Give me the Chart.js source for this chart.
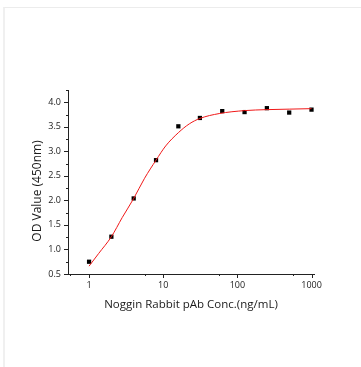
<!DOCTYPE html>
<html>
<head>
<meta charset="utf-8">
<script src="https://cdn.jsdelivr.net/npm/chart.js@4"></script>
<style>
  html, body { margin: 0; padding: 0; background: #fff; }
  #frame { position: absolute; left: 3px; top: 7px; width: 400px; height: 400px;
           border-left: 2px solid #f0f0f0; border-top: 1px solid #ececec; }
  #wrap { position: absolute; left: 0; top: 0; width: 361px; height: 367px; }
</style>
</head>
<body>
<div id="frame"></div>
<div id="wrap"><canvas id="chart" width="361" height="367"></canvas></div>
<script>
// measured points (2-fold dilution series)
const concs = [1, 2, 4, 8, 16, 31.25, 62.5, 125, 250, 500, 1000];
const odValues = [0.75, 1.26, 2.04, 2.82, 3.51, 3.68, 3.82, 3.80, 3.88, 3.79, 3.85];

// fitted curve
const fitX = [1, 1.35, 2, 2.8, 4, 5.6, 8, 10.8, 16, 22.5, 31.25, 57, 125, 250, 500, 1000];
const fitY = [0.66, 0.92, 1.26, 1.65, 2.04, 2.45, 2.82, 3.11, 3.38, 3.56, 3.67, 3.77, 3.83, 3.85, 3.86, 3.87];

const xMajor = [1, 10, 100, 1000];
const xMinor = [0.56, 5.6, 56, 560];
const yMajor = [0.5, 1.0, 1.5, 2.0, 2.5, 3.0, 3.5, 4.0];
const yMinor = [0.75, 1.25, 1.75, 2.25, 2.75, 3.25, 3.75, 4.25];

const xTitle = 'Noggin Rabbit pAb Conc.(ng/mL)';
const yTitle = 'OD Value (450nm)';

const textColor = '#1a1a1a';
const tickFont = { family: 'Open Sans', size: 9 };

// outward tick marks + axis titles
const axisDecor = {
  id: 'axisDecor',
  afterDraw(chart) {
    const { ctx, chartArea, scales } = chart;
    const x = scales.x, y = scales.y;
    ctx.save();
    ctx.strokeStyle = '#222';
    ctx.lineWidth = 1;
    ctx.beginPath();
    xMajor.forEach(v => { const p = Math.round(x.getPixelForValue(v)) + 0.5; ctx.moveTo(p, chartArea.bottom); ctx.lineTo(p, chartArea.bottom + 4); });
    xMinor.forEach(v => { const p = Math.round(x.getPixelForValue(v)) + 0.5; ctx.moveTo(p, chartArea.bottom); ctx.lineTo(p, chartArea.bottom + 2); });
    yMajor.forEach(v => { const p = Math.round(y.getPixelForValue(v)) + 0.5; ctx.moveTo(chartArea.left, p); ctx.lineTo(chartArea.left - 4, p); });
    yMinor.forEach(v => { const p = Math.round(y.getPixelForValue(v)) + 0.5; ctx.moveTo(chartArea.left, p); ctx.lineTo(chartArea.left - 2, p); });
    ctx.stroke();

    ctx.fillStyle = textColor;
    ctx.textAlign = 'center';
    ctx.textBaseline = 'middle';
    ctx.font = '11.5px "Open Sans"';
    ctx.fillText(xTitle, (chartArea.left + chartArea.right) / 2, 305);
    ctx.translate(38, 191);
    ctx.rotate(-Math.PI / 2);
    ctx.font = '12px "Open Sans"';
    ctx.fillText(yTitle, 0, 0);
    ctx.restore();
  }
};

new Chart(document.getElementById('chart'), {
  type: 'scatter',
  data: {
    datasets: [
      {
        label: 'fit',
        type: 'line',
        data: fitX.map((v, i) => ({ x: v, y: fitY[i] })),
        borderColor: '#f01818',
        borderWidth: 1,
        pointRadius: 0,
        fill: false,
        cubicInterpolationMode: 'monotone'
      },
      {
        label: 'OD',
        data: concs.map((v, i) => ({ x: v, y: odValues[i] })),
        pointStyle: 'rect',
        pointRadius: 3,
        backgroundColor: '#000',
        borderColor: '#000',
        borderWidth: 0
      }
    ]
  },
  options: {
    responsive: false,
    animation: false,
    layout: { padding: { left: 0, right: 47, top: 90, bottom: 0 } },
    plugins: { legend: { display: false }, tooltip: { enabled: false } },
    scales: {
      x: {
        type: 'logarithmic',
        min: 0.52,
        max: 1080,
        afterBuildTicks: s => { s.ticks = xMajor.map(v => ({ value: v })); },
        afterFit: s => { s.height = 93; },
        grid: { display: false, drawTicks: false },
        border: { display: true, color: '#222', width: 1 },
        ticks: { color: textColor, font: tickFont, padding: 6, maxRotation: 0, autoSkip: false,
                 callback: v => String(v) }
      },
      y: {
        min: 0.5,
        max: 4.25,
        afterBuildTicks: s => { s.ticks = yMajor.map(v => ({ value: v })); },
        afterFit: s => { s.width = 68; },
        grid: { display: false, drawTicks: false },
        border: { display: true, color: '#222', width: 1 },
        ticks: { color: textColor, font: tickFont, padding: 7, callback: v => v.toFixed(1) }
      }
    }
  },
  plugins: [axisDecor]
});
</script>
</body>
</html>
